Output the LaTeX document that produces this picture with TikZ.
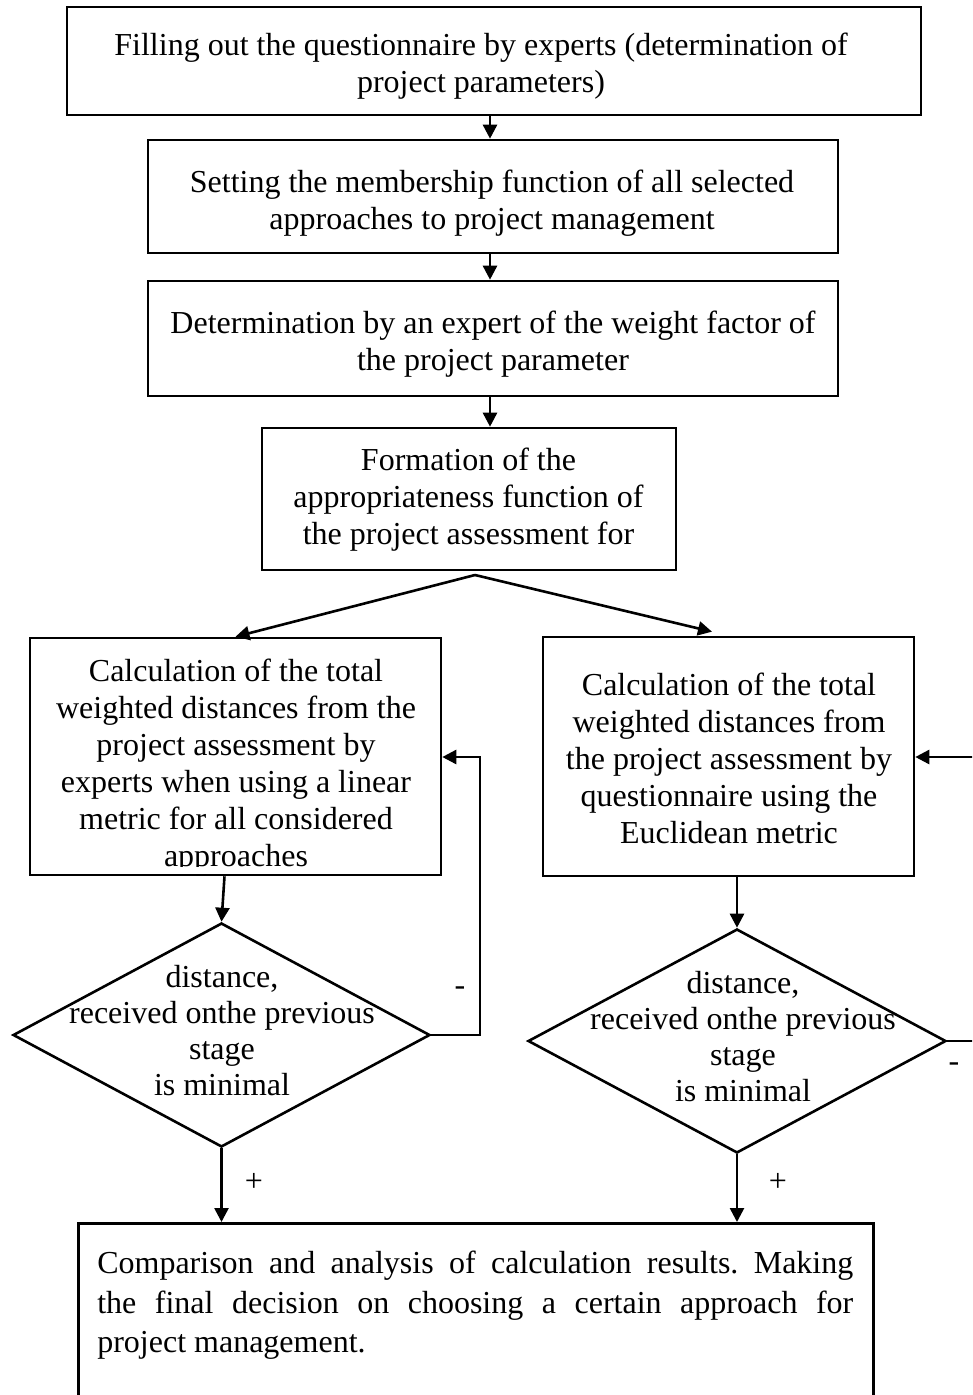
\documentclass[tikz,border=0pt]{standalone}
\usepackage{fontspec}
\setmainfont{Liberation Serif}
\usetikzlibrary{arrows.meta,shapes.geometric,calc}

\begin{document}
\frenchspacing
\begin{tikzpicture}[x=1pt,y=-1pt,
  line width=2.6pt,
  box/.style={draw, rectangle, inner sep=0pt},
  dia/.style={draw, diamond, inner sep=0pt},
  txt/.style={inner sep=0pt, align=center, font=\fontsize{32}{37}\selectfont},
  arr/.style={-{Triangle[length=14pt,width=14pt]}},
]
\useasboundingbox (0,0) rectangle (972,1395);
\clip (0,0) rectangle (972,1395);

% process boxes
\node[box, minimum width=854, minimum height=108] (b1) at (494,61) {};
\node[box, minimum width=690, minimum height=113] (b2) at (493,196.5) {};
\node[box, minimum width=690, minimum height=115] (b3) at (493,338.5) {};
\node[box, minimum width=414, minimum height=142] (b4) at (469,499) {};
\node[box, minimum width=411, minimum height=237] (b5) at (235.5,756.5) {};
\node[box, minimum width=371, minimum height=239] (b6) at (728.5,756.5) {};
\node[box, minimum width=795, minimum height=220, anchor=north west] (b7) at (77,1222) {};

% decisions
\node[dia, minimum width=417, minimum height=224] (d1) at (221.5,1035) {};
\node[dia, minimum width=418, minimum height=224] (d2) at (737,1041) {};

% box texts
\node[txt] (t1) at (481,66) {Filling out the questionnaire by experts (determination of\\project parameters)};
\node[txt] (t2) at (492,203) {Setting the membership function of all selected\\approaches to project management};
\node[txt] (t3) at (493,344) {Determination by an expert of the weight factor of\\the project parameter};
\node[txt] (t4) at (468.5,500) {Formation of the\\appropriateness function of\\the project assessment for};
\begin{scope}
  \clip (30,640) rectangle (441,866);
  \node[txt] (t5) at (236,766) {Calculation of the total\\weighted distances from the\\project assessment by\\experts when using a linear\\metric for all considered\\approaches};
\end{scope}
\node[txt] (t6) at (729,758) {Calculation of the total\\weighted distances from\\the project assessment by\\questionnaire using the\\Euclidean metric};
\node[txt, font=\fontsize{32}{36}\selectfont] (t8) at (222,1031) {distance,\\received onthe previous\\stage\\is minimal};
\node[txt, font=\fontsize{32}{36}\selectfont] (t9) at (743,1037) {distance,\\received onthe previous\\stage\\is minimal};
\node[txt, align=justify, text width=756, anchor=north west, font=\fontsize{32}{39.5}\selectfont] (t7) at (96,1250)
  {Comparison and analysis of calculation results. Making\linebreak the final decision on choosing a certain approach for\linebreak project management.};

% branch labels
\node[txt] (m1) at (460,991) {-};
\node[txt] (m2) at (954,1067) {-};
\node[txt] (p1) at (254,1182) {+};
\node[txt] (p2) at (778,1182) {+};

% helper points
\coordinate (xa) at (490,0);
\coordinate (sp) at (475,575);
\coordinate (rt) at (712,0);
\coordinate (fb1) at (480,757);
\coordinate (fb2) at (995,757);

% connectors
\draw[arr] (b1.south -| xa) -- (b2.north -| xa);
\draw[arr] (b2.south -| xa) -- (b3.north -| xa);
\draw[arr] (b3.south -| xa) -- (b4.north -| xa);
\draw[arr] (sp) -- (b5.north);
\draw[arr] (sp) -- ($(b6.north -| rt)+(0,-4)$);
\draw[arr] ($(b5.south)+(-11,0)$) -- (d1.north);
\draw[arr] (b6.south -| d2.north) -- (d2.north);
\draw[arr] (d1.east) -| (fb1) -- (fb1 -| b5.east);
\draw[arr] (d2.east) -| (fb2) -- (fb2 -| b6.east);
\draw[arr] (d1.south) -- (d1.south |- b7.north);
\draw[arr] (d2.south) -- (d2.south |- b7.north);
\end{tikzpicture}
\end{document}
